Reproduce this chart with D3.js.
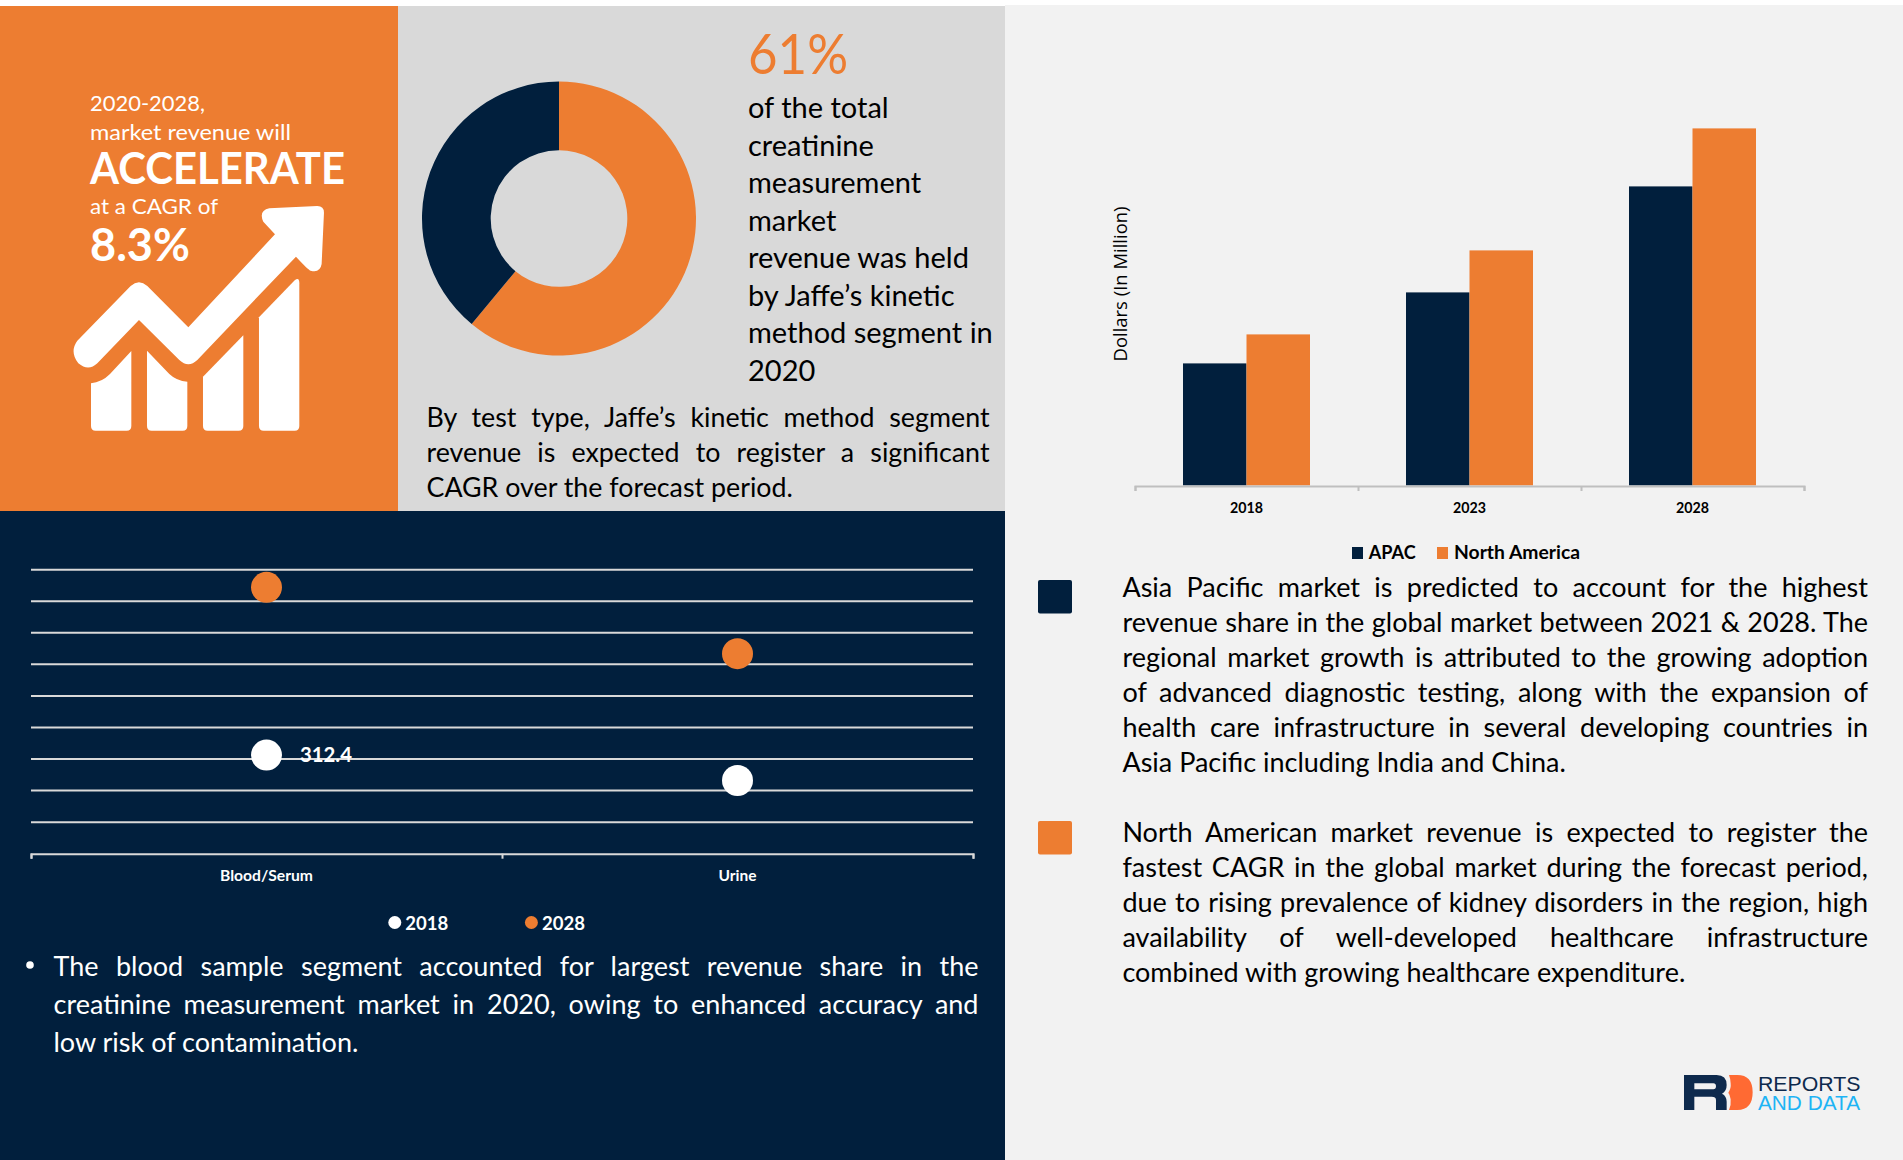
<!DOCTYPE html>
<html>
<head>
<meta charset="utf-8">
<script src="https://cdn.jsdelivr.net/npm/d3@7"></script>
<style>
  html, body { margin: 0; padding: 0; background: #fff; }
  svg { display: block; }
  text { font-family: Lato, "Open Sans", sans-serif; }
</style>
</head>
<body>
<div id="chart"></div>
<script>
// donut share
const shareLabels = ["Jaffe's kinetic method", "Other"]
const shareValues = [61, 39]

// dot chart
const sampleTypes = ["Blood/Serum", "Urine"]
const dotYears = ["2018", "2028"]
const dots2018 = [312.4, 232]
const dots2028 = [844, 634]
const dotTicks = [0, 100, 200, 300, 400, 500, 600, 700, 800, 900]

// bar chart
const barYears = ["2018", "2023", "2028"]
const barSeries = ["APAC", "North America"]
const apacValues = [122, 193, 299]
const northAmericaValues = [151, 235, 357]

// copy
const leadLines = ["of the total", "creatinine", "measurement", "market", "revenue was held", "by Jaffe\u2019s kinetic", "method segment in", "2020"]
const testTypeLines = ["By test type, Jaffe\u2019s kinetic method segment", "revenue is expected to register a significant", "CAGR over the forecast period."]
const bloodLines = ["The blood sample segment accounted for largest revenue share in the", "creatinine measurement market in 2020, owing to enhanced accuracy and", "low risk of contamination."]
const apacLines = ["Asia Pacific market is predicted to account for the highest", "revenue share in the global market between 2021 & 2028. The", "regional market growth is attributed to the growing adoption", "of advanced diagnostic testing, along with the expansion of", "health care infrastructure in several developing countries in", "Asia Pacific including India and China."]
const naLines = ["North American market revenue is expected to register the", "fastest CAGR in the global market during the forecast period,", "due to rising prevalence of kidney disorders in the region, high", "availability of well-developed healthcare infrastructure", "combined with growing healthcare expenditure."]

const orange = "#ed7d31", navy = "#011f3d", grey = "#d9d9d9", pale = "#f2f2f2"

const svg = d3.select("#chart").append("svg")
    .attr("width", 1903)
    .attr("height", 1160)

function rect(x, y, w, h, fill) {
  return svg.append("rect").attr("x", x).attr("y", y).attr("width", w).attr("height", h).attr("fill", fill)
}

// one line of text, squeezed to a measured width when one is given
function label(txt, x, y, size, fill, width, weight) {
  const t = svg.append("text")
      .attr("x", x)
      .attr("y", y)
      .attr("font-size", size)
      .attr("fill", fill)
      .attr("font-weight", weight || 400)
      .text(txt)
  if (width) t.attr("textLength", width).attr("lengthAdjust", "spacingAndGlyphs")
  return t
}

// paragraph with every line but the last stretched by word spacing
function justified(lines, x, y, dy, size, fill, width) {
  lines.forEach((line, i) => {
    const t = label(line, x, y + i * dy, size, fill)
    if (i < lines.length - 1) {
      const gaps = line.split(" ").length - 1
      const len = t.node().getComputedTextLength()
      t.style("word-spacing", (width - len) / gaps + "px")
    }
  })
}

// panels
rect(1005, 5, 898, 1155, pale)
rect(0, 6, 398, 505, orange)
rect(398, 6, 607, 505, grey)
rect(0, 511, 1005, 649, navy)

// orange panel
label("2020-2028,", 90, 110.5, 21.5, "#fff", 115)
label("market revenue will", 90, 139.5, 21.5, "#fff", 201)
label("ACCELERATE", 90, 183.5, 43, "#fff", 255, 700)
label("at a CAGR of", 90, 214, 21.5, "#fff", 128)
label("8.3%", 90, 260.5, 45, "#fff", 100, 700)

// growth icon, traced at 3x and mapped back with a group transform
const icon = svg.append("g")
    .attr("transform", "translate(60,190) scale(0.3333)")
    .attr("fill", "#fff")
icon.append("path").attr("d", "M52,452 L212,288 Q237,266 262,288 L385,412 L645,133 L610,95 Q595,62 628,55 L772,48 Q792,48 792,68 L785,222 Q780,250 752,242 Q745,240 708,200 L412,510 Q385,535 358,510 L237,390 L112,520 Q85,545 55,520 Q28,485 52,452 Z")
icon.append("path").attr("d", "M93,580 Q125,577 150,552 L214,483 V708 Q214,722 200,722 H107 Q93,722 93,708 Z")
icon.append("path").attr("d", "M261,482 L328,552 Q350,573 382,575 V708 Q382,722 368,722 H275 Q261,722 261,708 Z")
icon.append("path").attr("d", "M429,560 L550,436 V708 Q550,722 536,722 H443 Q429,722 429,708 Z")
icon.append("path").attr("d", "M597,382 L705,270 Q718,260 718,280 V708 Q718,722 704,722 H611 Q597,722 597,708 Z")

// donut
const pie = d3.pie().sort(null)
const arc = d3.arc().innerRadius(68.3).outerRadius(137)
const donut = svg.append("g").attr("transform", "translate(559,218.5)")
donut.selectAll("path")
  .data(pie(shareValues))
  .join("path")
    .attr("d", arc)
    .attr("fill", (d, i) => i == 0 ? orange : navy)
  .append("title")
    .text((d, i) => shareLabels[i])

label("61%", 748, 73.6, 57, orange, 100)
leadLines.forEach((line, i) => label(line, 748, 118 + i * 37.5, 29, "#000"))
justified(testTypeLines, 426.5, 427, 35, 26.8, "#000", 563)

// dot chart
const dotX = d3.scalePoint().domain(sampleTypes).range([31, 973]).padding(0.5)
const dotY = d3.scaleLinear().domain([0, 900]).range([853.7, 569.7])

svg.append("g").selectAll("line")
  .data(dotTicks.slice(1))
  .join("line")
    .attr("x1", 31).attr("x2", 973)
    .attr("y1", d => dotY(d)).attr("y2", d => dotY(d))
    .attr("stroke", grey).attr("stroke-width", 2)

const dotAxis = svg.append("g")
    .attr("transform", "translate(0,853.7)")
    .call(d3.axisBottom(d3.scaleLinear().domain([0, 2]).range([31, 973])).tickValues([0, 1, 2]).tickSize(5).tickFormat(""))
dotAxis.selectAll("path, line").attr("stroke", grey).attr("stroke-width", 2)

svg.append("g").selectAll("circle")
  .data(sampleTypes.map((c, i) => ({c: c, v: dots2018[i]})))
  .join("circle")
    .attr("cx", d => dotX(d.c)).attr("cy", d => dotY(d.v)).attr("r", 15.5).attr("fill", "#fff")
svg.append("g").selectAll("circle")
  .data(sampleTypes.map((c, i) => ({c: c, v: dots2028[i]})))
  .join("circle")
    .attr("cx", d => dotX(d.c)).attr("cy", d => dotY(d.v)).attr("r", 15.5).attr("fill", orange)

label(dots2018[0], dotX(sampleTypes[0]) + 33.5, 762, 21, "#fff", 52, 700)

sampleTypes.forEach((c, i) => {
  label(c, dotX(c), 881, 14.5, "#fff", [93, 38][i], 700).attr("text-anchor", "middle")
})

dotYears.forEach((y, i) => {
  const cx = [394.8, 531.4][i]
  svg.append("circle").attr("cx", cx).attr("cy", 922.5).attr("r", 6.5).attr("fill", i == 0 ? "#fff" : orange)
  label(y, cx + 10.5, 929.6, 18, "#fff", 43, 700)
})

svg.append("circle").attr("cx", 30).attr("cy", 965).attr("r", 3.8).attr("fill", "#fff")
justified(bloodLines, 53.5, 975.5, 38.3, 27, "#fff", 925)

// bar chart
const barX = d3.scaleBand().domain(barYears).range([1135, 1804])
const barInner = d3.scaleBand().domain(barSeries).range([48, 175])
const barY = d3.scaleLinear().domain([0, 400]).range([485.4, 85.4])
const barRows = [apacValues, northAmericaValues]

svg.append("g").selectAll("g")
  .data(barSeries)
  .join("g")
    .attr("fill", (d, i) => i == 0 ? navy : orange)
  .selectAll("rect")
  .data((s, i) => barYears.map((y, j) => ({s: s, y: y, v: barRows[i][j]})))
  .join("rect")
    .attr("x", d => barX(d.y) + barInner(d.s))
    .attr("width", barInner.bandwidth())
    .attr("y", d => barY(d.v))
    .attr("height", d => barY(0) - barY(d.v))

const barAxis = svg.append("g")
    .attr("transform", "translate(0,486)")
    .call(d3.axisBottom(d3.scaleLinear().domain([0, 3]).range([1135, 1804])).tickValues([0, 1, 2, 3]).tickSize(5).tickFormat(""))
barAxis.selectAll("path, line").attr("stroke", "#bfbfbf").attr("stroke-width", 2)

barYears.forEach(y => {
  label(y, barX(y) + barX.bandwidth() / 2, 513, 16, "#000", 33, 700).attr("text-anchor", "middle")
})

svg.append("text")
    .attr("transform", "translate(1127,361.5) rotate(-90)")
    .attr("font-size", 17.5)
    .attr("fill", "#000")
    .attr("textLength", 155)
    .attr("lengthAdjust", "spacingAndGlyphs")
    .style("font-family", "'Open Sans'")
    .text("Dollars (In Million)")

rect(1352, 547, 11, 12, navy)
label(barSeries[0], 1368.7, 558.6, 18, "#000", 47, 700)
rect(1437, 547, 11, 12, orange)
label(barSeries[1], 1454, 558.6, 18, "#000", 126, 700)

// notes on the right
rect(1038, 580, 34, 33.6, navy).attr("rx", 2)
justified(apacLines, 1122.4, 597, 35, 27, "#000", 745.6)
rect(1038, 821, 34, 33.6, orange).attr("rx", 2)
justified(naLines, 1122.4, 842.3, 35, 27, "#000", 745.6)

// logo
const logo = svg.append("g").attr("transform", "translate(1660,1050) scale(0.3333)")
logo.append("path").attr("fill", "#0e2a4d").attr("fill-rule", "evenodd")
    .attr("d", "M72,75 H170 Q200,75 200,105 Q200,124 186,131 Q200,138 200,155 V180 H168 V150 Q168,140 155,140 H103 V180 H72 Z M103,100 V118 H160 Q168,118 168,109 Q168,100 160,100 Z")
logo.append("path").attr("fill", "#ff6a33")
    .attr("d", "M207,75 H232 Q278,75 278,127 Q278,180 232,180 H207 Q214,165 212,148 Q210,134 205,128 Q214,115 212,100 Q212,88 207,75 Z")
label("REPORTS", 1758, 1090.5, 20, "#0e2a4d", 102.5).style("font-family", "'Liberation Sans'")
label("AND DATA", 1758, 1110, 20, "#1db4f5", 102).style("font-family", "'Liberation Sans'")
</script>
</body>
</html>
